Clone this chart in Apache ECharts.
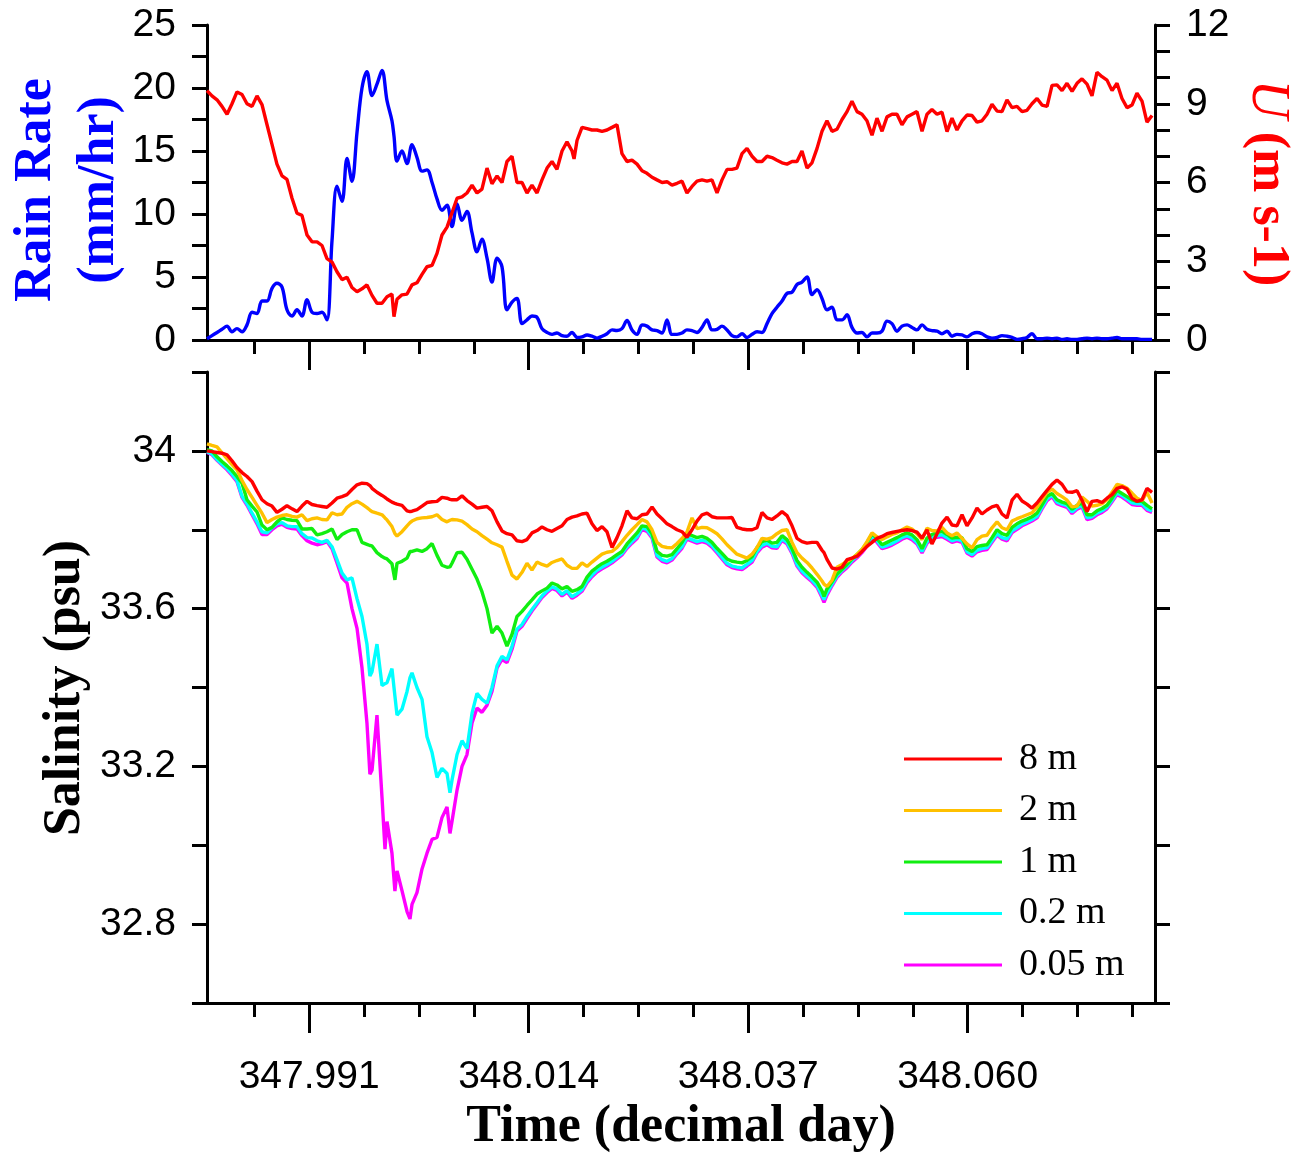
<!DOCTYPE html>
<html>
<head>
<meta charset="utf-8">
<script src="https://cdn.jsdelivr.net/npm/echarts@6/dist/echarts.min.js"></script>
<style>html,body{margin:0;padding:0;background:#fff}#chart{width:1299px;height:1156px}</style>
</head>
<body>
<div id="chart"></div>
<script>
// ---------------- DATA ----------------
// decimal-day tick marks
const xMajorTicks = [347.991, 348.014, 348.037, 348.060];
const xMinorTicks = [347.98525, 347.99675, 348.00250, 348.00825, 348.01975, 348.02550, 348.03125,
                     348.04275, 348.04850, 348.05425, 348.06575, 348.07150, 348.07725];
const seriesNames = ['8 m', '2 m', '1 m', '0.2 m', '0.05 m'];

// upper panel time stamps (decimal day)
const timeTop = [
 347.98030,347.98082,347.98135,347.98187,347.98240,347.98292,347.98344,347.98397,347.98449,347.98502,
 347.98554,347.98606,347.98659,347.98711,347.98763,347.98816,347.98868,347.98921,347.98973,347.99025,
 347.99078,347.99130,347.99183,347.99235,347.99287,347.99340,347.99392,347.99445,347.99497,347.99549,
 347.99602,347.99654,347.99706,347.99759,347.99811,347.99864,347.99916,347.99968,347.99989,
 348.00021,348.00073,348.00126,348.00178,348.00230,348.00283,348.00335,348.00388,348.00440,348.00492,
 348.00545,348.00597,348.00650,348.00702,348.00754,348.00807,348.00859,348.00911,348.00964,348.01016,
 348.01069,348.01121,348.01173,348.01226,348.01278,348.01331,348.01383,348.01435,348.01488,348.01540,
 348.01593,348.01645,348.01697,348.01750,348.01802,348.01855,348.01876,348.01907,348.01959,348.02012,348.02064,
 348.02116,348.02169,348.02221,348.02274,348.02326,348.02378,348.02431,348.02483,348.02536,348.02588,
 348.02640,348.02693,348.02745,348.02798,348.02850,348.02902,348.02955,348.03007,348.03059,348.03112,
 348.03164,348.03217,348.03269,348.03321,348.03374,348.03426,348.03479,348.03531,348.03583,348.03636,
 348.03688,348.03741,348.03793,348.03845,348.03898,348.03950,348.04002,348.04055,348.04107,348.04160,
 348.04212,348.04264,348.04317,348.04369,348.04422,348.04474,348.04526,348.04579,348.04631,348.04684,
 348.04736,348.04788,348.04841,348.04893,348.04945,348.04998,348.05050,348.05103,348.05155,348.05207,
 348.05260,348.05312,348.05365,348.05417,348.05469,348.05522,348.05574,348.05626,348.05679,348.05731,
 348.05784,348.05836,348.05888,348.05941,348.05993,348.06046,348.06098,348.06150,348.06203,348.06255,
 348.06308,348.06360,348.06412,348.06465,348.06517,348.06570,348.06622,348.06674,348.06727,348.06779,
 348.06832,348.06884,348.06936,348.06989,348.07041,348.07094,348.07146,348.07198,348.07251,348.07303,
 348.07355,348.07408,348.07460,348.07513,348.07565,348.07617,348.07670,348.07722,348.07774,348.07827,
 348.07879,348.07932
];

// rain rate (mm/hr)
const rainRate = [
 0.1,0.35,0.6,0.85,1.1,0.65,0.9,0.65,1.2,2.2,
 2.1,3.1,3.1,4.1,4.5,4.2,2.4,1.9,2.4,1.9,
 3.2,2.2,2.1,2.2,1.6,7.9,12.2,11.0,14.4,12.6,
 16.5,20.0,21.3,19.4,20.3,21.4,19.0,17.4,16.2,
 14.2,15.0,14.0,15.5,14.5,13.4,13.5,12.5,11.2,10.3,
 10.7,9.0,10.8,9.5,10.2,8.5,7.0,8.0,6.5,4.6,
 6.5,5.8,2.4,3.0,3.3,1.3,1.6,1.9,1.8,0.9,
 0.6,0.45,0.55,0.35,0.3,0.6,0.45,0.2,0.25,0.4,0.3,
 0.15,0.3,0.5,0.8,0.75,0.9,1.55,0.8,0.45,1.2,
 1.1,0.8,0.75,0.55,1.6,0.45,0.45,0.55,0.8,0.75,
 0.6,1.0,1.6,0.8,0.85,1.1,0.8,0.35,0.25,0.5,
 0.2,0.45,0.65,0.6,1.3,2.1,2.6,3.1,3.7,3.8,
 4.4,4.6,5.0,3.6,4.0,3.3,2.4,2.6,1.6,1.6,
 2.0,1.0,0.55,0.6,0.25,0.55,0.55,0.7,1.5,1.3,
 0.7,1.1,1.2,1.0,0.8,1.2,0.85,0.75,0.7,0.5,
 0.7,0.3,0.45,0.4,0.25,0.5,0.6,0.5,0.25,0.15,
 0.2,0.35,0.3,0.2,0.05,0.1,0.2,0.5,0.1,0.1,
 0.15,0.1,0.15,0.05,0.1,0.05,0.05,0.1,0.15,0.1,
 0.15,0.1,0.1,0.15,0.2,0.1,0.1,0.1,0.1,0.05,
 0.05,0.05
];

// wind speed U (m/s)
const windSpeed = [
 9.5,9.3,9.15,8.9,8.6,9.0,9.45,9.35,9.0,8.9,
 9.3,8.97,8.2,7.45,6.7,6.25,6.12,5.4,4.83,4.75,
 4.0,3.74,3.74,3.6,3.1,2.97,2.6,2.3,2.39,2.0,
 1.84,1.95,2.1,1.7,1.4,1.4,1.65,1.75,0.89,
 1.55,1.72,1.75,2.1,2.18,2.5,2.79,2.84,3.3,4.0,
 4.3,4.85,5.4,5.45,5.6,5.9,5.6,5.75,6.55,5.95,
 6.25,6.0,6.8,7.0,6.0,6.0,5.6,5.9,5.6,6.1,
 6.55,6.8,6.5,7.2,7.55,7.2,6.9,7.6,8.1,8.05,8.0,
 8.0,7.95,8.0,8.1,8.2,7.1,6.8,6.85,6.7,6.45,
 6.35,6.2,6.1,6.0,6.03,5.9,5.97,6.05,5.6,5.85,
 6.05,6.1,6.05,6.1,5.6,6.1,6.5,6.5,6.55,7.1,
 7.3,7.0,6.8,6.8,7.0,6.95,6.85,6.75,6.7,6.8,
 6.8,7.2,6.55,6.75,7.3,7.95,8.35,7.95,8.03,8.4,
 8.7,9.1,8.7,8.6,8.35,7.8,8.45,7.95,8.5,8.6,
 8.6,8.2,8.5,8.6,8.7,7.95,8.6,8.78,8.6,8.68,
 7.94,8.45,8.0,8.35,8.57,8.55,8.3,8.35,8.6,8.98,
 8.72,8.7,9.15,8.85,8.9,8.7,8.75,9.0,9.2,8.95,
 8.9,9.7,9.72,9.5,9.78,9.47,9.78,9.95,9.75,9.3,
 10.2,10.03,9.9,9.5,9.78,9.2,8.85,8.95,9.4,9.1,
 8.3,8.55
];

// lower panel time stamps (decimal day)
const timeSal = [
 347.98030,347.98082,347.98135,347.98187,347.98240,347.98292,347.98344,347.98397,347.98449,347.98502,
 347.98554,347.98606,347.98659,347.98711,347.98763,347.98816,347.98868,347.98921,347.98973,347.99025,
 347.99078,347.99130,347.99183,347.99235,347.99287,347.99340,347.99392,347.99445,347.99497,347.99549,
 347.99602,347.99654,347.99706,347.99737,347.99759,347.99811,347.99864,347.99895,347.99916,347.99968,
 347.99999,348.00021,348.00073,348.00126,348.00157,348.00178,348.00230,348.00283,348.00335,348.00388,
 348.00440,348.00492,348.00545,348.00576,348.00597,348.00650,348.00702,348.00754,348.00807,348.00859,
 348.00911,348.00964,348.01016,348.01069,348.01121,348.01173,348.01226,348.01278,348.01331,348.01383,
 348.01435,348.01488,348.01540,348.01593,348.01645,348.01697,348.01750,348.01802,348.01855,348.01907,
 348.01959,348.02012,348.02064,348.02116,348.02169,348.02221,348.02274,348.02326,348.02378,348.02431,
 348.02483,348.02536,348.02588,348.02640,348.02693,348.02745,348.02798,348.02850,348.02902,348.02955,
 348.03007,348.03059,348.03112,348.03164,348.03217,348.03269,348.03321,348.03374,348.03426,348.03479,
 348.03531,348.03583,348.03636,348.03688,348.03741,348.03793,348.03845,348.03898,348.03950,348.04002,
 348.04055,348.04107,348.04160,348.04212,348.04264,348.04317,348.04369,348.04422,348.04474,348.04495,
 348.04526,348.04579,348.04631,348.04684,348.04736,348.04788,348.04841,348.04893,348.04945,348.04998,
 348.05050,348.05103,348.05155,348.05207,348.05260,348.05312,348.05365,348.05417,348.05469,348.05522,
 348.05574,348.05626,348.05679,348.05731,348.05784,348.05836,348.05888,348.05941,348.05993,348.06046,
 348.06098,348.06150,348.06203,348.06255,348.06308,348.06360,348.06412,348.06465,348.06517,348.06570,
 348.06622,348.06674,348.06727,348.06779,348.06832,348.06884,348.06936,348.06989,348.07041,348.07094,
 348.07146,348.07198,348.07251,348.07303,348.07355,348.07408,348.07460,348.07513,348.07565,348.07617,
 348.07670,348.07722,348.07774,348.07827,348.07879,348.07932
];

// salinity (psu) at 8 m
const sal8m = [
 34.000,33.998,33.996,33.994,33.990,33.975,33.958,33.945,33.935,33.922,
 33.898,33.876,33.866,33.860,33.844,33.852,33.861,33.853,33.846,33.860,
 33.872,33.864,33.861,33.859,33.857,33.868,33.880,33.884,33.889,33.902,
 33.914,33.918,33.917,33.912,33.905,33.895,33.887,33.882,33.878,33.870,
 33.867,33.865,33.862,33.848,33.846,33.847,33.851,33.860,33.869,33.871,
 33.872,33.882,33.880,33.877,33.876,33.876,33.886,33.874,33.865,33.855,
 33.857,33.859,33.848,33.820,33.797,33.790,33.787,33.772,33.770,33.775,
 33.792,33.798,33.807,33.800,33.796,33.803,33.810,33.826,33.832,33.835,
 33.840,33.842,33.815,33.798,33.808,33.795,33.755,33.780,33.810,33.848,
 33.830,33.828,33.838,33.840,33.858,33.840,33.828,33.815,33.808,33.800,
 33.795,33.781,33.800,33.822,33.838,33.842,33.833,33.830,33.830,33.830,
 33.831,33.806,33.802,33.800,33.800,33.805,33.844,33.830,33.826,33.835,
 33.846,33.836,33.810,33.778,33.770,33.766,33.768,33.768,33.748,33.742,
 33.725,33.703,33.700,33.705,33.724,33.728,33.733,33.745,33.758,33.768,
 33.778,33.783,33.790,33.793,33.796,33.798,33.800,33.798,33.794,33.779,
 33.800,33.764,33.790,33.817,33.832,33.812,33.810,33.838,33.810,33.830,
 33.855,33.840,33.850,33.858,33.862,33.840,33.830,33.875,33.890,33.873,
 33.865,33.855,33.868,33.884,33.900,33.915,33.926,33.915,33.896,33.895,
 33.899,33.875,33.846,33.872,33.874,33.869,33.880,33.889,33.905,33.909,
 33.903,33.880,33.872,33.876,33.905,33.895
];

// salinity (psu) at 2 m
const sal2m = [
 34.018,34.014,34.010,33.995,33.980,33.965,33.952,33.925,33.902,33.882,
 33.862,33.842,33.818,33.826,33.832,33.836,33.838,33.834,33.832,33.838,
 33.823,33.828,33.830,33.826,33.825,33.843,33.838,33.840,33.857,33.866,
 33.872,33.865,33.856,33.850,33.846,33.842,33.838,33.830,33.825,33.808,
 33.790,33.784,33.795,33.810,33.818,33.822,33.828,33.830,33.831,33.833,
 33.838,33.826,33.820,33.824,33.826,33.825,33.822,33.813,33.802,33.795,
 33.785,33.776,33.767,33.762,33.756,33.720,33.685,33.675,33.692,33.715,
 33.698,33.718,33.712,33.708,33.717,33.722,33.726,33.710,33.702,33.702,
 33.716,33.707,33.718,33.728,33.738,33.743,33.745,33.755,33.770,33.786,
 33.800,33.813,33.826,33.820,33.800,33.768,33.758,33.755,33.754,33.765,
 33.778,33.794,33.830,33.803,33.806,33.805,33.798,33.790,33.777,33.762,
 33.750,33.738,33.733,33.728,33.738,33.755,33.778,33.776,33.780,33.790,
 33.798,33.800,33.768,33.742,33.728,33.717,33.703,33.687,33.670,33.662,
 33.656,33.672,33.705,33.712,33.720,33.727,33.738,33.750,33.770,33.792,
 33.782,33.775,33.782,33.788,33.792,33.800,33.807,33.802,33.790,33.775,
 33.804,33.798,33.797,33.806,33.792,33.785,33.792,33.778,33.764,33.754,
 33.775,33.784,33.786,33.805,33.820,33.805,33.800,33.822,33.828,33.833,
 33.838,33.843,33.857,33.876,33.895,33.903,33.892,33.884,33.875,33.858,
 33.860,33.883,33.872,33.860,33.862,33.866,33.876,33.895,33.915,33.912,
 33.905,33.893,33.880,33.874,33.895,33.868
];

// salinity (psu) at 1 m
const sal1m = [
 34.003,34.000,33.985,33.973,33.962,33.950,33.935,33.918,33.876,33.860,
 33.845,33.812,33.800,33.806,33.820,33.830,33.826,33.824,33.823,33.802,
 33.802,33.803,33.787,33.790,33.795,33.802,33.775,33.788,33.795,33.800,
 33.800,33.768,33.763,33.760,33.759,33.742,33.732,33.728,33.726,33.714,
 33.673,33.715,33.720,33.728,33.745,33.745,33.749,33.745,33.752,33.765,
 33.735,33.710,33.705,33.706,33.715,33.742,33.743,33.725,33.700,33.675,
 33.643,33.600,33.538,33.555,33.538,33.505,33.535,33.580,33.593,33.608,
 33.622,33.637,33.645,33.652,33.665,33.660,33.650,33.656,33.644,33.648,
 33.656,33.680,33.695,33.705,33.714,33.720,33.728,33.737,33.745,33.764,
 33.778,33.792,33.810,33.808,33.790,33.745,33.735,33.733,33.737,33.752,
 33.768,33.790,33.785,33.780,33.783,33.778,33.768,33.753,33.740,33.726,
 33.720,33.718,33.716,33.722,33.732,33.755,33.770,33.774,33.766,33.768,
 33.785,33.775,33.752,33.722,33.705,33.692,33.680,33.667,33.645,33.631,
 33.650,33.668,33.688,33.700,33.712,33.726,33.737,33.750,33.766,33.790,
 33.778,33.762,33.768,33.774,33.780,33.787,33.792,33.787,33.775,33.752,
 33.779,33.788,33.793,33.796,33.788,33.779,33.781,33.780,33.752,33.745,
 33.757,33.760,33.762,33.780,33.800,33.790,33.786,33.806,33.815,33.822,
 33.827,33.833,33.842,33.863,33.885,33.892,33.876,33.870,33.866,33.852,
 33.862,33.868,33.838,33.838,33.848,33.854,33.862,33.880,33.900,33.892,
 33.884,33.876,33.872,33.872,33.862,33.853
];

// salinity (psu) at 0.2 m
const sal02m = [
 33.998,33.992,33.978,33.966,33.955,33.941,33.925,33.885,33.866,33.842,
 33.820,33.795,33.792,33.805,33.815,33.818,33.810,33.808,33.808,33.790,
 33.780,33.779,33.772,33.768,33.773,33.757,33.724,33.690,33.673,33.678,
 33.625,33.580,33.510,33.429,33.440,33.510,33.405,33.410,33.412,33.448,
 33.378,33.330,33.345,33.390,33.425,33.437,33.400,33.370,33.275,33.235,
 33.172,33.195,33.182,33.133,33.165,33.230,33.265,33.245,33.335,33.385,
 33.370,33.360,33.400,33.455,33.479,33.470,33.505,33.548,33.560,33.580,
 33.598,33.615,33.632,33.645,33.655,33.650,33.636,33.646,33.630,33.638,
 33.648,33.670,33.685,33.697,33.705,33.712,33.720,33.730,33.740,33.757,
 33.770,33.782,33.805,33.800,33.783,33.735,33.724,33.720,33.727,33.743,
 33.757,33.780,33.775,33.770,33.774,33.770,33.760,33.745,33.730,33.715,
 33.708,33.705,33.703,33.712,33.722,33.745,33.760,33.766,33.758,33.757,
 33.777,33.768,33.744,33.712,33.695,33.683,33.672,33.658,33.633,33.623,
 33.640,33.662,33.683,33.697,33.708,33.722,33.733,33.746,33.762,33.784,
 33.772,33.756,33.760,33.765,33.772,33.780,33.785,33.779,33.768,33.745,
 33.770,33.780,33.785,33.787,33.780,33.772,33.776,33.772,33.745,33.737,
 33.748,33.752,33.754,33.772,33.790,33.780,33.776,33.797,33.805,33.814,
 33.820,33.826,33.834,33.857,33.878,33.888,33.870,33.865,33.861,33.845,
 33.856,33.862,33.830,33.833,33.842,33.848,33.857,33.875,33.893,33.887,
 33.878,33.868,33.866,33.866,33.853,33.848
];

// salinity (psu) at 0.05 m
const sal005m = [
 33.996,33.990,33.976,33.964,33.952,33.938,33.922,33.882,33.862,33.838,
 33.815,33.788,33.788,33.800,33.810,33.814,33.806,33.803,33.802,33.785,
 33.772,33.766,33.762,33.765,33.770,33.752,33.716,33.678,33.665,33.600,
 33.550,33.450,33.310,33.180,33.190,33.330,33.120,32.990,33.060,32.980,
 32.884,32.935,32.885,32.832,32.813,32.850,32.880,32.940,32.980,33.015,
 33.020,33.070,33.097,33.030,33.060,33.140,33.200,33.230,33.310,33.348,
 33.337,33.355,33.390,33.450,33.471,33.463,33.497,33.543,33.555,33.575,
 33.594,33.611,33.628,33.641,33.651,33.646,33.632,33.642,33.626,33.634,
 33.644,33.666,33.681,33.693,33.701,33.708,33.716,33.726,33.736,33.753,
 33.766,33.778,33.801,33.796,33.779,33.731,33.720,33.716,33.723,33.739,
 33.753,33.776,33.771,33.766,33.770,33.766,33.756,33.741,33.726,33.711,
 33.704,33.701,33.699,33.708,33.718,33.741,33.756,33.762,33.754,33.753,
 33.773,33.764,33.740,33.708,33.691,33.679,33.668,33.654,33.628,33.616,
 33.634,33.658,33.679,33.693,33.704,33.718,33.729,33.742,33.758,33.780,
 33.768,33.752,33.756,33.761,33.768,33.776,33.781,33.775,33.764,33.741,
 33.766,33.776,33.781,33.783,33.776,33.768,33.772,33.768,33.741,33.733,
 33.744,33.748,33.750,33.768,33.786,33.776,33.772,33.793,33.801,33.810,
 33.816,33.822,33.830,33.853,33.874,33.884,33.866,33.861,33.857,33.841,
 33.852,33.858,33.826,33.829,33.838,33.844,33.853,33.871,33.889,33.883,
 33.874,33.864,33.862,33.862,33.849,33.844
];

// ---------------- CHART ----------------
[rainRate, windSpeed].forEach(a => { if (a.length !== timeTop.length) throw new Error('top length ' + a.length + ' vs ' + timeTop.length); });
[sal8m, sal2m, sal1m, sal02m, sal005m].forEach((a, i) => { if (a.length !== timeSal.length) throw new Error('sal ' + i + ' length ' + a.length + ' vs ' + timeSal.length); });

const pairs = (ts, vs) => ts.map((t, i) => [t, vs[i]]);

const X_MIN = 347.9803, X_MAX = 348.07963;
const BLACK = '#000';
const AXW = 3;
const LW = 3.4;
const tickFont = { fontFamily: 'Liberation Sans', fontSize: 39, color: BLACK };
const serif = 'Liberation Serif';

function xAxisDef(grid, major, withLabels) {
  return {
    type: 'value', gridIndex: grid, position: 'bottom', min: X_MIN, max: X_MAX,
    axisLine: { show: major, onZero: false, lineStyle: { color: BLACK, width: AXW } },
    axisTick: { show: true, inside: false, length: major ? 30 : 14,
      customValues: major ? xMajorTicks : xMinorTicks, lineStyle: { color: BLACK, width: AXW } },
    axisLabel: withLabels ? Object.assign({ show: true, margin: 55, customValues: xMajorTicks,
      formatter: v => v.toFixed(3) }, tickFont) : { show: false },
    splitLine: { show: false }
  };
}
function yAxisDef(grid, pos, min, max, interval, labelFn, showLabels) {
  return {
    type: 'value', gridIndex: grid, position: pos, min: min, max: max, interval: interval,
    axisLine: { show: true, onZero: false, lineStyle: { color: BLACK, width: AXW } },
    axisTick: { show: true, inside: false, length: 15, lineStyle: { color: BLACK, width: AXW } },
    axisLabel: showLabels ? Object.assign({ show: true, margin: 31, formatter: labelFn }, tickFont) : { show: false },
    splitLine: { show: false }
  };
}

const chart = echarts.init(document.getElementById('chart'), null, { renderer: 'canvas' });
const lineSeries = (name, xi, yi, data, color, z, smooth) => ({
  name: name, type: 'line', xAxisIndex: xi, yAxisIndex: yi, data: data,
  showSymbol: false, symbol: 'none', z: z, smooth: smooth || false,
  lineStyle: { color: color, width: LW }, itemStyle: { color: color }
});

chart.setOption({
  animation: false,
  backgroundColor: '#fff',
  grid: [
    { left: 207, width: 948, top: 25, height: 315 },
    { left: 207, width: 948, top: 372, height: 631 }
  ],
  xAxis: [
    xAxisDef(0, true, false),
    xAxisDef(0, false, false),
    xAxisDef(1, true, true),
    xAxisDef(1, false, false)
  ],
  yAxis: [
    yAxisDef(0, 'left', 0, 25, 2.5, v => (v % 5 === 0 ? String(v) : ''), true),
    yAxisDef(0, 'right', 0, 12, 1, v => (v % 3 === 0 ? String(v) : ''), true),
    yAxisDef(1, 'left', 32.6, 34.2, 0.2, v => (Math.round(v * 10) % 4 === 0 ? String(+v.toFixed(1)) : ''), true),
    yAxisDef(1, 'right', 32.6, 34.2, 0.2, null, false)
  ],
  legend: {
    data: seriesNames,
    orient: 'vertical', left: 904, top: 739, padding: 0,
    icon: 'rect', itemWidth: 98, itemHeight: 3, itemGap: 11.5,
    textStyle: { fontFamily: serif, fontSize: 38, color: BLACK, lineHeight: 40, padding: [0, 0, 0, 12] }
  },
  series: [
    lineSeries('rain', 0, 0, pairs(timeTop, rainRate), '#0000ff', 3, 0.35),
    lineSeries('U', 0, 1, pairs(timeTop, windSpeed), '#ff0000', 4),
    lineSeries('0.05 m', 2, 2, pairs(timeSal, sal005m), '#ff00ff', 2),
    lineSeries('0.2 m', 2, 2, pairs(timeSal, sal02m), '#00ffff', 3),
    lineSeries('1 m', 2, 2, pairs(timeSal, sal1m), '#11ee11', 4),
    lineSeries('2 m', 2, 2, pairs(timeSal, sal2m), '#ffc000', 5),
    lineSeries('8 m', 2, 2, pairs(timeSal, sal8m), '#ff0000', 6)
  ],
  graphic: [
    { type: 'text', x: 68, y: 190, rotation: Math.PI / 2,
      style: { text: 'Rain Rate\n(mm/hr)', fontFamily: serif, fontWeight: 'bold', fontSize: 52,
        lineHeight: 63, fill: '#0000ff', align: 'center', verticalAlign: 'middle' } },
    { type: 'text', x: 1267, y: 183, rotation: -Math.PI / 2,
      style: { text: '{i|U} {b|(m s-1)}', align: 'center', verticalAlign: 'middle',
        rich: {
          i: { fontFamily: serif, fontStyle: 'italic', fontSize: 54, fill: '#ff0000' },
          b: { fontFamily: serif, fontWeight: 'bold', fontSize: 52, fill: '#ff0000' }
        }, fontFamily: serif, fontSize: 52, fill: '#ff0000' } },
    { type: 'text', x: 66, y: 688, rotation: Math.PI / 2,
      style: { text: 'Salinity (psu)', fontFamily: serif, fontWeight: 'bold', fontSize: 52,
        fill: BLACK, align: 'center', verticalAlign: 'middle' } },
    { type: 'text', x: 681, y: 1128,
      style: { text: 'Time (decimal day)', fontFamily: serif, fontWeight: 'bold', fontSize: 52,
        fill: BLACK, align: 'center', verticalAlign: 'middle' } }
  ]
});
</script>
</body>
</html>
